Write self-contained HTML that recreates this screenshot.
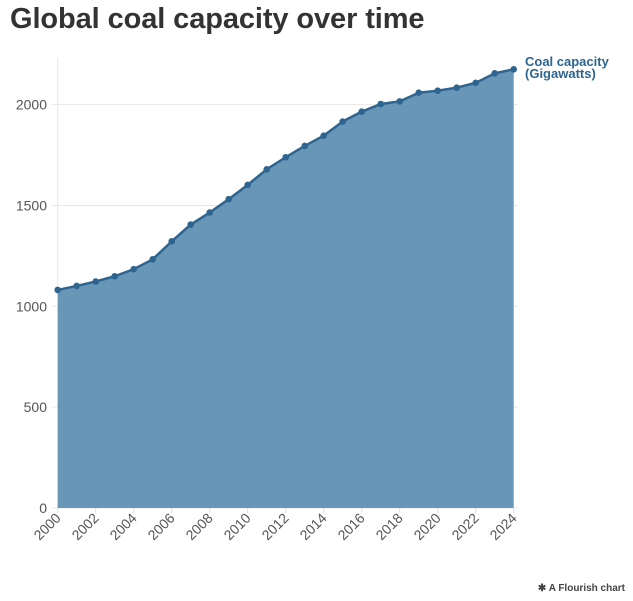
<!DOCTYPE html>
<html><head><meta charset="utf-8"><style>
body{margin:0;background:#fff;width:633px;height:601px;overflow:hidden;font-family:"Liberation Sans",sans-serif}
#title{position:absolute;left:10px;top:3px;font-size:29px;font-weight:bold;color:#333;margin:0;letter-spacing:-0.1px}
#credit{position:absolute;right:8px;top:583px;font-size:10px;font-weight:bold;color:#444}
</style></head><body>
<h1 id="title">Global coal capacity over time</h1>
<svg id="chart" width="633" height="601" style="position:absolute;left:0;top:0"></svg>
<div id="credit">✱ A Flourish chart</div>
<script>
const years=[2000,2001,2002,2003,2004,2005,2006,2007,2008,2009,2010,2011,2012,2013,2014,2015,2016,2017,2018,2019,2020,2021,2022,2023,2024];
const capacity=[1081,1101,1123,1149,1184,1233,1322,1405,1465,1531,1602,1679,1739,1795,1846,1916,1965,2003,2016,2059,2069,2084,2108,2155,2175];
const yTicks=[0,500,1000,1500,2000];
const xTicks=[2000,2002,2004,2006,2008,2010,2012,2014,2016,2018,2020,2022,2024];
const NS="http://www.w3.org/2000/svg";
const svg=document.getElementById('chart');
const x=v=>57.7+(v-2000)*(513.7-57.7)/24;
const y=v=>508-v*0.2017;
function mk(t,a,p){const e=document.createElementNS(NS,t);for(const k in a)e.setAttribute(k,a[k]);(p||svg).appendChild(e);return e;}
yTicks.forEach(t=>{
  const g=mk('line',{x1:52,x2:518,y1:y(t),y2:y(t),stroke:'#e8e8e8','stroke-width':1});
  
  
  const l=mk('text',{x:47,y:y(t)+5,'text-anchor':'end','font-size':14,fill:'#555','font-family':'Liberation Sans, sans-serif'});
  l.textContent=t;
  
  
});
mk('line',{x1:57.7,x2:57.7,y1:58,y2:508,stroke:'#e8e8e8'});
let d='M'+x(years[0])+','+y(0);
years.forEach((yr,i)=>d+=' L'+x(yr)+','+y(capacity[i]));
d+=' L'+x(years[years.length-1])+','+y(0)+' Z';
const area=mk('path',{d:d,fill:'#6896b6'});


const line=mk('polyline',{points:years.map((yr,i)=>x(yr)+','+y(capacity[i])).join(' '),fill:'none',stroke:'#2e6590','stroke-width':2.5,'stroke-linejoin':'round'});


years.forEach((yr,i)=>{
  const c=mk('circle',{cx:x(yr),cy:y(capacity[i]),r:3.3,fill:'#2e6590'});
  
  
});
xTicks.forEach(t=>{
  const tk=mk('line',{x1:x(t),x2:x(t),y1:508,y2:513,stroke:'#ddd'});
  
  
  const l=mk('text',{x:x(t)+4,y:519,'text-anchor':'end','font-size':14,fill:'#555','font-family':'Liberation Sans, sans-serif',transform:'rotate(-45 '+(x(t)+4)+' 519)'});
  l.textContent=t;
  
  
});
const lab=mk('text',{x:525,y:66,'font-size':13,'font-weight':'bold',fill:'#2e6590','font-family':'Liberation Sans, sans-serif'});


const t1=mk('tspan',{x:525,dy:0},lab);t1.textContent='Coal capacity';
const t2=mk('tspan',{x:525,dy:12},lab);t2.textContent='(Gigawatts)';
</script>
</body></html>
